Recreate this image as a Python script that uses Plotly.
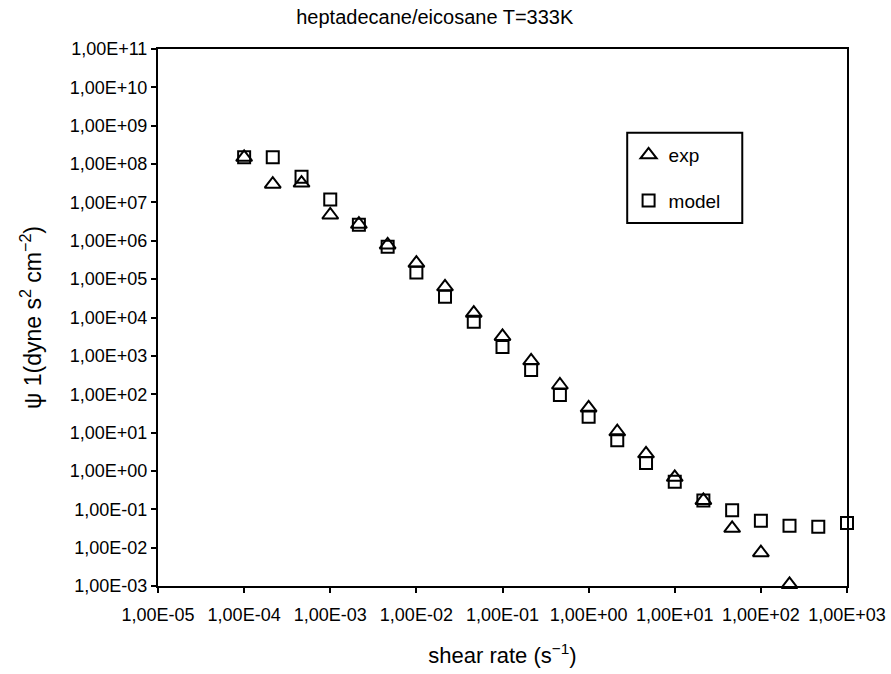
import plotly.graph_objects as go

# Shear rates (s^-1), three per decade
shear_rate = [1.00e-4, 2.15e-4, 4.64e-4, 1.00e-3, 2.15e-3, 4.64e-3, 1.00e-2, 2.15e-2,
              4.64e-2, 1.00e-1, 2.15e-1, 4.64e-1, 1.00e0, 2.15e0, 4.64e0, 1.00e1,
              2.15e1, 4.64e1, 1.00e2, 2.15e2, 4.64e2, 1.00e3]

# Experimental first normal stress coefficient (dyne s^2 cm^-2)
psi1_exp = [1.5e8, 3.0e7, 3.2e7, 4.7e6, 2.7e6, 7.8e5, 2.6e5, 6.3e4,
            1.3e4, 3.2e3, 7.4e2, 1.74e2, 44, 10.5, 2.8, 0.68,
            0.17, 0.032, 0.0074, 0.0011]

# Model prediction
psi1_model = [1.5e8, 1.5e8, 4.7e7, 1.2e7, 2.6e6, 7.0e5, 1.5e5, 3.5e4,
              7.8e3, 1.7e3, 4.3e2, 96, 26, 6.3, 1.6, 0.52,
              0.17, 0.095, 0.05, 0.037, 0.035, 0.044]

x_tickvals = [1e-5, 1e-4, 1e-3, 1e-2, 1e-1, 1e0, 1e1, 1e2, 1e3]
x_ticktext = ["1,00E-05", "1,00E-04", "1,00E-03", "1,00E-02", "1,00E-01",
              "1,00E+00", "1,00E+01", "1,00E+02", "1,00E+03"]
y_tickvals = [1e-3, 1e-2, 1e-1, 1e0, 1e1, 1e2, 1e3, 1e4, 1e5, 1e6, 1e7, 1e8, 1e9, 1e10, 1e11]
y_ticktext = ["1,00E-03", "1,00E-02", "1,00E-01", "1,00E+00", "1,00E+01", "1,00E+02",
              "1,00E+03", "1,00E+04", "1,00E+05", "1,00E+06", "1,00E+07", "1,00E+08",
              "1,00E+09", "1,00E+10", "1,00E+11"]

FONT = "Arial, Liberation Sans, Helvetica, sans-serif"

fig = go.Figure()
fig.add_trace(go.Scatter(
    x=shear_rate[:len(psi1_exp)], y=psi1_exp, mode="markers", name="exp",
    legendgroup="exp",
    marker=dict(symbol="triangle-up-open", size=14, color="black",
                line=dict(width=2, color="black")),
    cliponaxis=False,
))
fig.add_trace(go.Scatter(
    x=shear_rate, y=psi1_model, mode="markers", name="model",
    legendgroup="model",
    marker=dict(symbol="square-open", size=12, color="black",
                line=dict(width=2, color="black")),
    cliponaxis=False,
))

axis_common = dict(
    showline=True, linecolor="black", linewidth=2, mirror=True,
    ticks="outside", ticklen=5, tickwidth=2, tickcolor="black",
    showgrid=False, zeroline=False, automargin=False,
    tickfont=dict(family=FONT, size=18, color="black"),
)

fig.update_xaxes(
    type="log", range=[-5, 3], tickvals=x_tickvals, ticktext=x_ticktext,
    ticklabelstandoff=6,
    title=dict(text="shear rate (s<sup>−1</sup>)", font=dict(family=FONT, size=22, color="black"),
               standoff=24),
    **axis_common,
)
fig.update_yaxes(
    type="log", range=[-3, 11], tickvals=y_tickvals, ticktext=y_ticktext,
    title=dict(text="ψ 1(dyne s<sup>2</sup> cm<sup>−2</sup>)",
               font=dict(family=FONT, size=23, color="black"), standoff=22),
    **axis_common,
)

# Legend frame, drawn as a box so it can be wider than the legend content
fig.add_shape(type="rect", xref="paper", yref="paper",
              x0=0.681, x1=0.848, y0=0.676, y1=0.844,
              line=dict(color="black", width=2), fillcolor="white", layer="below")

fig.update_layout(
    width=891, height=674,
    margin=dict(l=158, r=44, t=49, b=88),
    paper_bgcolor="white", plot_bgcolor="white",
    title=dict(text="heptadecane/eicosane T=333K", x=0.488, xref="container",
               y=0.975, yref="container", yanchor="middle", xanchor="center",
               font=dict(family=FONT, size=20, color="black")),
    showlegend=True,
    legend=dict(x=0.683, y=0.838, xanchor="left", yanchor="top",
                borderwidth=0, bgcolor="rgba(0,0,0,0)",
                font=dict(family=FONT, size=19, color="black"),
                traceorder="grouped", tracegroupgap=18, itemwidth=30),
)

fig.write_html("out.html")
